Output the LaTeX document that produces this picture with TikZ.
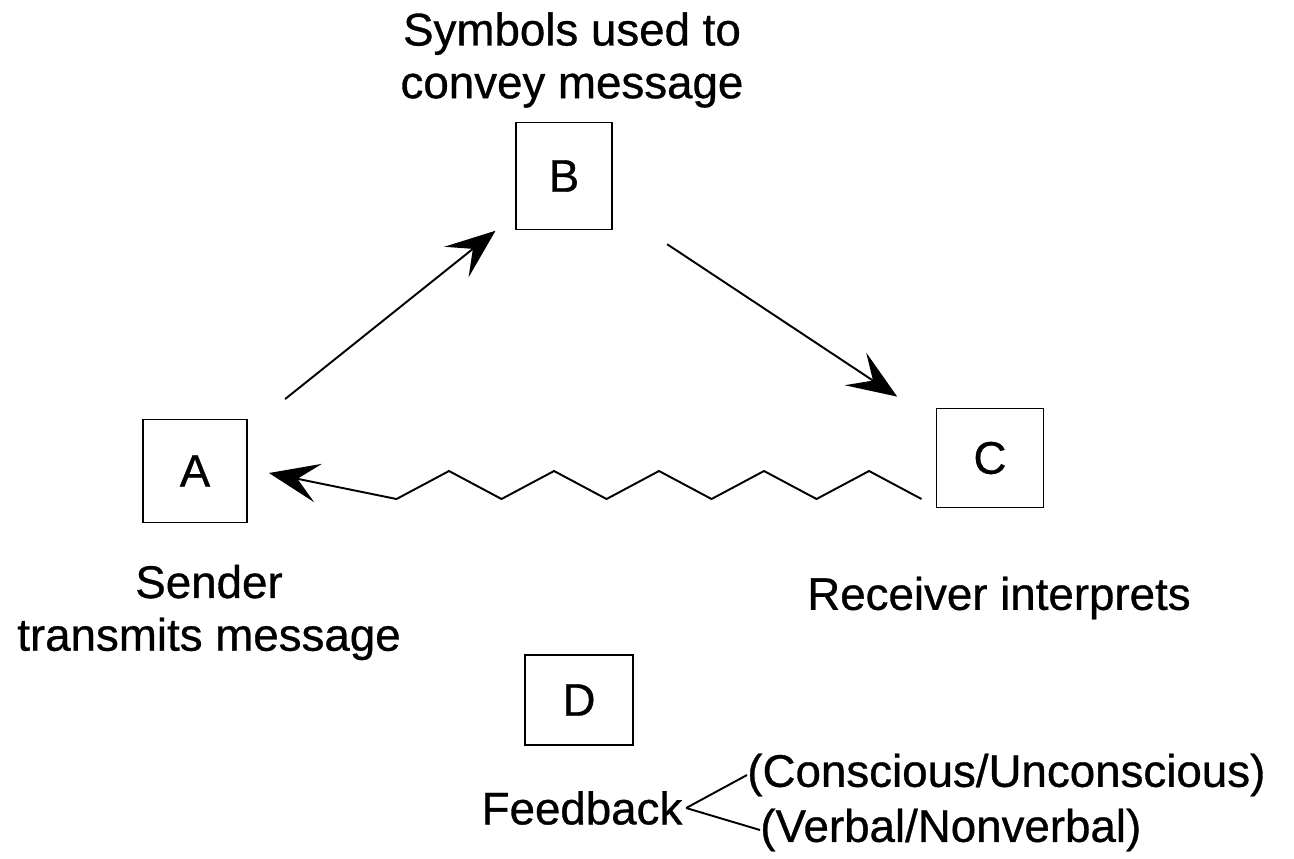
\documentclass[tikz,border=0pt]{standalone}
\usepackage{fontspec}
\setmainfont{Liberation Sans}
\newfontfamily\labelfont{Liberation Sans}[FakeBold=0.7]
\usetikzlibrary{arrows.meta, calc, positioning}

\begin{document}
\begin{tikzpicture}[
  box/.style={draw, line width=1.1pt, inner sep=0pt, minimum width=2.08cm, minimum height=2.06cm, font=\labelfont\fontsize{26}{31}\selectfont},
  lbl/.style={inner sep=0pt, align=center, font=\labelfont\fontsize{26}{30}\selectfont},
  arr/.style={-{Stealth[length=1cm, width=0.78cm, inset=0.42cm]}, line width=1.1pt},
  branch/.style={line width=1.1pt}
]
  \useasboundingbox (0,0) rectangle (25.88,-17.16);

  % the three stations of the loop
  \node[box] (A) at (3.90,-9.42) {A};
  \node[box, minimum width=1.92cm, minimum height=2.14cm] (B) at (11.28,-3.52) {B};
  \node[box, minimum width=2.14cm, minimum height=1.98cm] (C) at (19.80,-9.16) {C};
  \node[box, minimum width=2.16cm, minimum height=1.8cm] (D) at (11.58,-14.0) {D};

  \node[lbl] (symbols) at (11.44,-1.2) {Symbols used to\\convey message};
  \node[lbl] (sender) at (4.18,-12.25) {Sender\\transmits message};
  \node[lbl] (receiver) at (19.98,-11.96) {Receiver interprets};

  \draw[arr, shorten <=0.95cm, shorten >=0.5cm] (A) -- (B);
  \draw[arr, shorten <=1.3cm, shorten >=0.92cm] (B) -- (C);

  % noisy return path
  \draw[arr] ($(C.west)+(-0.28,-0.82)$)
    -- ++(-1.05,0.56) -- ++(-1.05,-0.56)
    -- ++(-1.05,0.56) -- ++(-1.05,-0.56)
    -- ++(-1.05,0.56) -- ++(-1.05,-0.56)
    -- ++(-1.05,0.56) -- ++(-1.05,-0.56)
    -- ++(-1.05,0.56) -- ++(-1.05,-0.56)
    -- ($(A.east)+(0.42,-0.04)$);

  % Feedback
  \node[lbl, inner sep=2pt] (fb) at (11.64,-16.16) {Feedback};
  \node[lbl, anchor=west] (cons) at (14.94,-15.5) {(Conscious/Unconscious)};
  \node[lbl, anchor=west] (verb) at (15.2,-16.6) {(Verbal/Nonverbal)};

  \draw[branch] (fb.east) -- (cons.west);
  \draw[branch] (fb.east) -- (verb.west);
\end{tikzpicture}
\end{document}
